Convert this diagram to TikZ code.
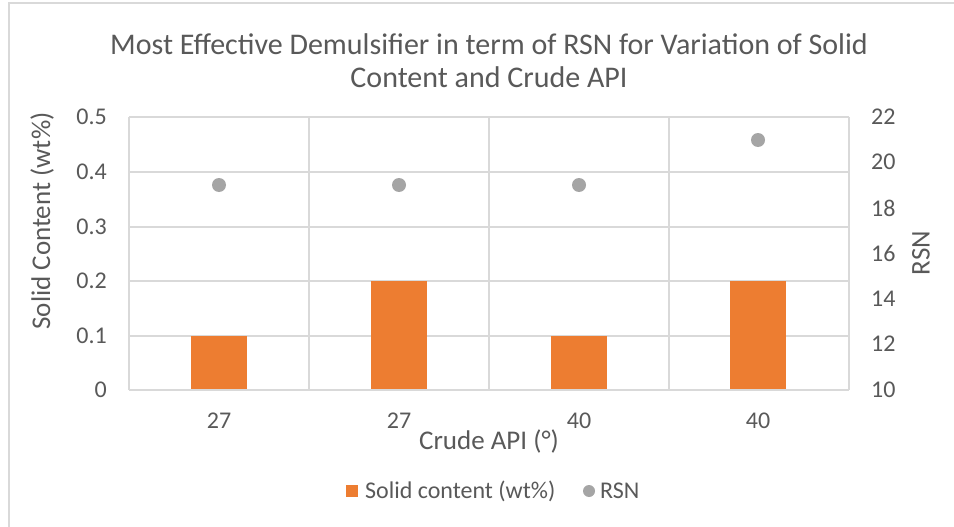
\documentclass[tikz,border=0pt]{standalone}
\usepackage{fontspec}
\setmainfont{Carlito}
\definecolor{txtgray}{HTML}{595959}
\definecolor{gridgray}{HTML}{D9D9D9}
\definecolor{frame}{HTML}{D9D9D9}
\definecolor{barorange}{HTML}{ED7D31}
\definecolor{dotgray}{HTML}{A5A5A5}
\tikzset{
  gridline/.style={draw=gridgray, line width=1.2pt},
  ticklbl/.style={text=txtgray, font=\fontsize{24}{28}\selectfont, inner sep=0pt},
  axtitle/.style={text=txtgray, font=\fontsize{27}{30}\selectfont, inner sep=0pt},
  bar/.style={fill=barorange, draw=none},
  rsndot/.style={circle, fill=dotgray, inner sep=0pt, minimum size=14pt},
}
\begin{document}
\begin{tikzpicture}[x=1pt,y=-1pt]
  \useasboundingbox (0,0) rectangle (954,527);
  \fill[white] (0,0) rectangle (954,527);
  % chart frame (top and left edges visible)
  \draw[frame, line width=1.5pt] (9,560) -- (9,3) -- (980,3);

  % title
  \node[text=txtgray, font=\fontsize{30}{33}\selectfont, align=center, inner sep=0pt] (title) at (489,61)
    {Most Effective Demulsifier in term of RSN for Variation of Solid\\Content and Crude API};

  % horizontal gridlines
  \foreach \yy in {117,172,227,281,336}
    \draw[gridline] (129,\yy) -- (849,\yy);
  % vertical gridlines
  \foreach \xx in {129,309,489,669,849}
    \draw[gridline] (\xx,117) -- (\xx,390);

  % bars
  \fill[bar] (191,336) rectangle (247,390);
  \fill[bar] (371,281) rectangle (427,390);
  \fill[bar] (551,336) rectangle (607,390);
  \fill[bar] (730,281) rectangle (786,390);

  % x axis line
  \draw[gridline] (129,390) -- (849,390);

  % RSN points
  \node[rsndot] (p1) at (219,185) {};
  \node[rsndot] (p2) at (399,185) {};
  \node[rsndot] (p3) at (579,185) {};
  \node[rsndot] (p4) at (758,140) {};

  % left axis labels
  \foreach \v/\yy in {0/390,0.1/336,0.2/281,0.3/227,0.4/172,0.5/117}
    \node[ticklbl, anchor=east] at (107,\yy) {\v};
  % right axis labels
  \foreach \v/\yy in {10/390,12/344,14/299,16/253,18/208,20/162,22/117}
    \node[ticklbl, anchor=west] at (871,\yy) {\v};
  % category labels
  \foreach \v/\xx in {27/219,27/399,40/579,40/758}
    \node[ticklbl] at (\xx,421) {\v};

  % axis titles
  \node[axtitle, rotate=90] (ytl) at (42,221) {Solid Content (wt\%)};
  \node[axtitle, rotate=90] (ytr) at (921,253) {RSN};
  \node[axtitle] (xt) at (489,441) {Crude API (°)};

  % legend
  \fill[barorange] (346,485) rectangle (358,497);
  \node[ticklbl, anchor=west] (lg1) at (365,491) {Solid content (wt\%)};
  \node[rsndot, minimum size=12pt] (lgdot) at (589,491) {};
  \node[ticklbl, anchor=west] (lg2) at (600,491) {RSN};
\end{tikzpicture}
\end{document}
